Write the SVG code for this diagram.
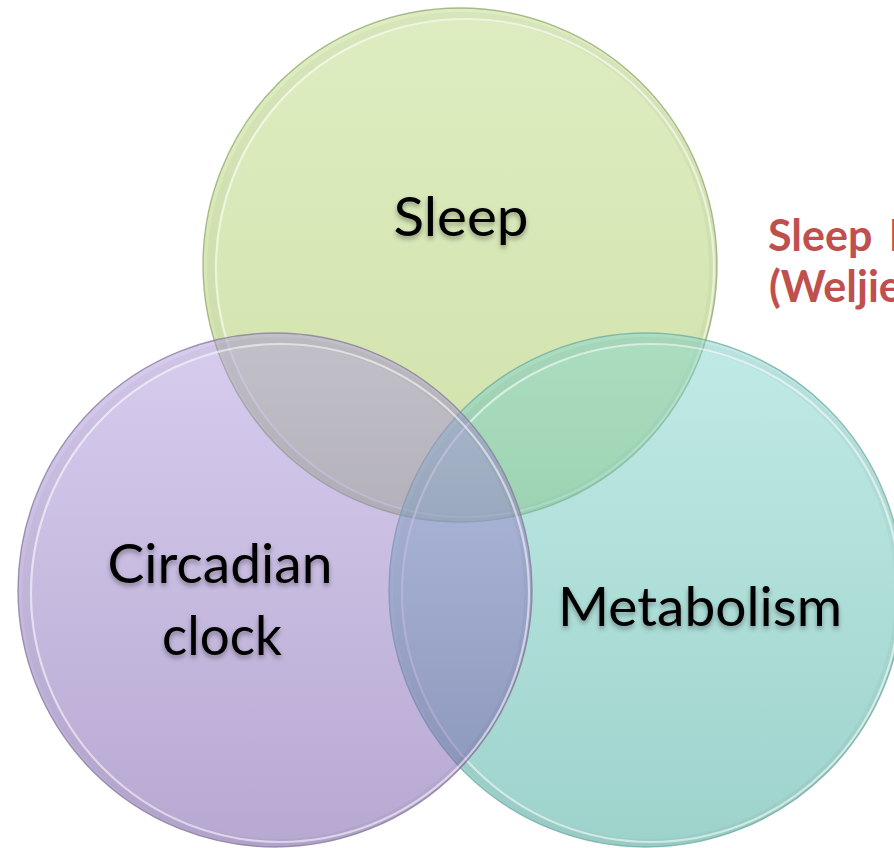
<svg xmlns="http://www.w3.org/2000/svg" width="894" height="848" viewBox="0 0 894 848">
  <defs>
    <linearGradient id="gS" x1="0" y1="0" x2="0" y2="1">
      <stop offset="0" stop-color="rgb(189,219,131)"/>
      <stop offset="1" stop-color="rgb(160,196,86)"/>
    </linearGradient>
    <linearGradient id="gC" x1="0" y1="0" x2="0" y2="1">
      <stop offset="0" stop-color="rgb(175,155,221)"/>
      <stop offset="1" stop-color="rgb(112,82,164)"/>
    </linearGradient>
    <linearGradient id="gM" x1="0" y1="0" x2="0" y2="1">
      <stop offset="0" stop-color="rgb(131,213,205)"/>
      <stop offset="1" stop-color="rgb(60,166,152)"/>
    </linearGradient>
    <filter id="ts" x="-10%" y="-30%" width="120%" height="170%">
      <feDropShadow dx="0" dy="3" stdDeviation="2.5" flood-color="#000" flood-opacity="0.35"/>
    </filter>
  </defs>
  <style>
    .fill{fill-opacity:0.5}
    .edge{fill:none;stroke-width:1.4;stroke-opacity:0.75}
    .band{fill:none;stroke:#000;stroke-opacity:0.03;stroke-width:8}
    .hl{fill:none;stroke:#fff;stroke-width:2.2;stroke-opacity:0.55}
    .lbl{font-family:Lato,"Open Sans","Liberation Sans",sans-serif;font-size:54px;fill:#000;text-anchor:middle;filter:url(#ts)}
    .red{font-family:Lato,"Open Sans","Liberation Sans",sans-serif;font-weight:bold;font-size:43px;fill:#c0504d}
  </style>

  <rect width="894" height="848" fill="#fff"/>

  <g id="node-sleep">
    <circle cx="460" cy="265" r="257" fill="url(#gS)" class="fill"/>
    <circle cx="462" cy="267" r="251" class="band"/>
    <circle cx="465" cy="268" r="249" class="hl"/>
    <circle cx="460" cy="265" r="257" class="edge" stroke="#8fa56c"/>
    <text class="lbl" x="461" y="236" textLength="135" lengthAdjust="spacingAndGlyphs">Sleep</text>
  </g>

  <g id="node-metabolism">
    <circle cx="646" cy="590" r="257" fill="url(#gM)" class="fill"/>
    <circle cx="648" cy="592" r="251" class="band"/>
    <circle cx="651" cy="593" r="249" class="hl"/>
    <circle cx="646" cy="590" r="257" class="edge" stroke="#6fa9a1"/>
    <text class="lbl" x="700" y="626" textLength="284" lengthAdjust="spacingAndGlyphs">Metabolism</text>
  </g>

  <g id="node-circadian">
    <circle cx="275" cy="590" r="257" fill="url(#gC)" class="fill"/>
    <circle cx="277" cy="592" r="251" class="band"/>
    <circle cx="280" cy="593" r="249" class="hl"/>
    <circle cx="275" cy="590" r="257" class="edge" stroke="#857799"/>
    <text class="lbl" x="220" y="583" textLength="225" lengthAdjust="spacingAndGlyphs">Circadian</text>
    <text class="lbl" x="222" y="655" textLength="120" lengthAdjust="spacingAndGlyphs">clock</text>
  </g>

  <g id="connectors"/>

  <g id="note">
    <text class="red" x="768" y="251" word-spacing="6">Sleep Debt</text>
    <text class="red" x="769" y="302">(Weljie et al., 2015)</text>
  </g>
</svg>
